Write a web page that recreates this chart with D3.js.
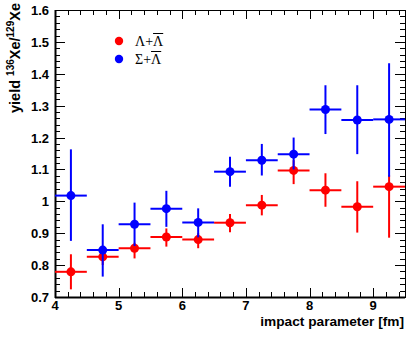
<!DOCTYPE html>
<html><head><meta charset="utf-8">
<script src="https://cdn.jsdelivr.net/npm/d3@7"></script>
<style>body{margin:0;background:#fff}svg{display:block}</style>
</head><body>
<script>
const binCenters = [4.25,4.75,5.25,5.75,6.25,6.75,7.25,7.75,8.25,8.75,9.25];
const binHalfWidth = 0.25;
const lambdaVals = [0.779,0.826,0.853,0.888,0.880,0.933,0.988,1.097,1.035,0.983,1.046];
const lambdaLo   = [0.724,0.800,0.821,0.858,0.853,0.903,0.956,1.054,0.983,0.902,0.886];
const lambdaHi   = [0.834,0.850,0.870,0.915,0.900,0.960,1.020,1.129,1.088,1.063,1.082];
const sigmaVals  = [1.018,0.847,0.928,0.977,0.934,1.093,1.129,1.148,1.288,1.255,1.257];
const sigmaLo    = [0.876,0.764,0.860,0.920,0.887,1.046,1.081,1.100,1.211,1.148,1.077];
const sigmaHi    = [1.163,0.928,0.996,1.033,0.978,1.140,1.180,1.200,1.364,1.364,1.433];
const xTicks = [4,5,6,7,8,9];
const yTicks = [0.7,0.8,0.9,1,1.1,1.2,1.3,1.4,1.5,1.6];

const W=415,H=339;
const L=55,R=405,T=10,B=297;
const svg=d3.select("body").append("svg").attr("width",W).attr("height",H);
const x=d3.scaleLinear().domain([4,9.5]).range([L,R]);
const y=d3.scaleLinear().domain([0.7,1.6]).range([B,T]);

// minor ticks
const xMinor=d3.range(40,96,2).map(v=>v/10).filter(v=>!xTicks.includes(v));
const yMinor=d3.range(70,161,2).map(v=>v/100).filter(v=>!yTicks.some(t=>Math.abs(t-v)<1e-9));
const tk=svg.append("g").attr("stroke","#000").attr("stroke-width",1).attr("shape-rendering","crispEdges");
xTicks.forEach(v=>{const px=Math.round(x(v))+0.5;
  tk.append("line").attr("x1",px).attr("x2",px).attr("y1",B).attr("y2",B-9);
  tk.append("line").attr("x1",px).attr("x2",px).attr("y1",T).attr("y2",T+9);});
xMinor.forEach(v=>{const px=Math.round(x(v))+0.5;
  tk.append("line").attr("x1",px).attr("x2",px).attr("y1",B).attr("y2",B-5);
  tk.append("line").attr("x1",px).attr("x2",px).attr("y1",T).attr("y2",T+5);});
yTicks.forEach(v=>{const py=Math.round(y(v))+0.5;
  tk.append("line").attr("x1",L).attr("x2",L+10).attr("y1",py).attr("y2",py);
  tk.append("line").attr("x1",R).attr("x2",R-10).attr("y1",py).attr("y2",py);});
yMinor.forEach(v=>{const py=Math.round(y(v))+0.5;
  tk.append("line").attr("x1",L).attr("x2",L+5).attr("y1",py).attr("y2",py);
  tk.append("line").attr("x1",R).attr("x2",R-5).attr("y1",py).attr("y2",py);});
svg.append("rect").attr("x",L+0.5).attr("y",T+0.5).attr("width",R-L).attr("height",B-T)
  .attr("fill","none").attr("stroke","#000").attr("stroke-width",1).attr("shape-rendering","crispEdges");
svg.append("line").attr("x1",L+0.5).attr("x2",L+0.5).attr("y1",T).attr("y2",B+1).attr("stroke","#000").attr("stroke-width",2);
svg.append("line").attr("x1",L).attr("x2",R).attr("y1",B+0.5).attr("y2",B+0.5).attr("stroke","#000").attr("stroke-width",2);

const font="'Liberation Sans',Arial,sans-serif";
svg.append("g").selectAll("text").data(xTicks).join("text")
  .attr("x",d=>x(d)).attr("y",B+13).attr("text-anchor","middle")
  .attr("font-family",font).attr("font-weight","bold").attr("font-size",13).text(d=>d);
svg.append("g").selectAll("text").data(yTicks).join("text")
  .attr("x",L-6).attr("y",d=>y(d)+5).attr("text-anchor","end")
  .attr("font-family",font).attr("font-weight","bold").attr("font-size",13).text(d=>d);

svg.append("text").attr("x",R-1).attr("y",326).attr("text-anchor","end")
  .attr("font-family",font).attr("font-weight","bold").attr("font-size",13.7).text("impact parameter [fm]");
const yl=svg.append("text").attr("transform","translate(20,3) rotate(-90)").attr("text-anchor","end")
  .attr("font-family",font).attr("font-weight","bold").attr("font-size",14.5);
yl.append("tspan").text("yield ");
yl.append("tspan").attr("font-size",10).attr("dy",-6).text("136");
yl.append("tspan").attr("dy",6).text("Xe/");
yl.append("tspan").attr("font-size",10).attr("dy",-6).text("129");
yl.append("tspan").attr("dy",6).text("Xe");

function drawSeries(vals,lo,hi,color){
  const g=svg.append("g").attr("stroke",color).attr("stroke-width",2);
  binCenters.forEach((c,i)=>{
    g.append("line").attr("x1",x(c-binHalfWidth)).attr("x2",Math.min(x(c+binHalfWidth),R)).attr("y1",y(vals[i])).attr("y2",y(vals[i]));
    g.append("line").attr("x1",x(c)).attr("x2",x(c)).attr("y1",y(lo[i])).attr("y2",y(hi[i]));
  });
  svg.append("g").selectAll("circle").data(vals).join("circle")
    .attr("cx",(d,i)=>x(binCenters[i])).attr("cy",d=>y(d)).attr("r",4.5).attr("fill",color);
}
drawSeries(lambdaVals,lambdaLo,lambdaHi,"#ff0000");
drawSeries(sigmaVals,sigmaLo,sigmaHi,"#0000ff");

// legend
const legend=[{c:"#ff0000",a:"Λ",y:41},{c:"#0000ff",a:"Σ",y:59}];
legend.forEach(l=>{
  svg.append("circle").attr("cx",119).attr("cy",l.y).attr("r",4.2).attr("fill",l.c);
  const t=svg.append("text").attr("x",135).attr("y",l.y+5).attr("font-family","'Liberation Serif','Times New Roman',serif").attr("font-size",14);
  t.append("tspan").text(l.a+"+");
  t.append("tspan").text("Λ");
  const tx=t.node();
  const n=tx.getNumberOfChars();
  const s=tx.getStartPositionOfChar(n-1), e=tx.getEndPositionOfChar(n-1);
  svg.append("line").attr("x1",s.x).attr("x2",e.x).attr("y1",l.y-7.5).attr("y2",l.y-7.5).attr("stroke","#000").attr("stroke-width",1);
});
</script>
</body></html>
